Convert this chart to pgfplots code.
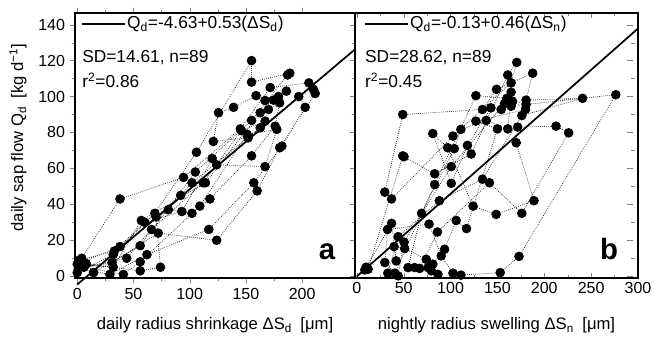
\documentclass[border=0pt]{standalone}
\usepackage{fontspec}
\setmainfont{Liberation Sans}
\usepackage{pgfplots}
\pgfplotsset{compat=1.18}
\tikzset{ann/.style={font=\fontsize{13}{15}\selectfont, inner sep=0pt}}
\begin{document}
\begin{tikzpicture}
\path[use as bounding box] (-56.25pt,-45pt) rectangle (434.25pt,208.5pt);
\pgfplotsset{
  every axis/.append style={
    scale only axis, height=198.75pt,
    /pgf/number format/assume math mode=true,
    ticklabel style={font=\fontsize{12}{14}\selectfont},
    label style={font=\fontsize{12.5}{14}\selectfont},
    ymin=-1, ymax=146.5,
    ytick={0,20,...,140}, minor y tick num=1, minor x tick num=1,
    tick align=outside, xtick pos=both,
    major tick length=4pt, minor tick length=2.5pt,
    axis line style={line width=0.8pt},
    clip=false,
    xlabel style={at={(rel axis cs:0.5,0)}, anchor=base, yshift=-39pt},
  },
  pts/.style={black!85, densely dotted, line width=0.55pt, mark=*, mark size=3.3pt,
    mark options={solid, fill=black, draw=black}},
  fit/.style={black, line width=1.3pt, no marks},
}
% ---------------- panel a ----------------
\begin{axis}[
  at={(0pt,0pt)}, anchor=south west,
  width=210pt,
  xmin=-2, xmax=247,
  xtick={0,50,100,150,200},
  ytick pos=left,
  xlabel={daily radius shrinkage ΔS\textsubscript{d}\enspace[μm]},
  ylabel={daily sap flow Q\textsubscript{d}\enspace[kg d\textsuperscript{−1}]},
  ylabel style={at={(rel axis cs:0,0.53)}, anchor=center, yshift=42.75pt},
]
\addplot[pts] coordinates {
(0,2) (32,12) (69,35) (106,69) (155,120) (155,108) (189,113) (187,112)
(155,86.7) (105,58) (56,17) (14.5,2) (4,10) (38,43) (94.5,55) (145,82)
(171.6,105) (206,107.6) (210,104) (211.6,101.7) (180,71.5) (160,47.5) (124,20) (72,24)
(31,7.6) (1,4) (29,1) (62,12) (117,26) (157,52) (182,72.4) (202.7,94)
(197,100) (152,77) (121,75) (125.6,91) (139,94) (159,100.5) (167,97.8) (179,100)
(186,103) (174.5,98) (162.7,91) (114,52) (57,31) (32,5) (0,6.7) (38,16.5)
(81,37) (102,35) (118,43) (155,67) (176,83.5) (180,96.5) (170,92.8) (167,86.3)
(146,81) (112,52) (66,26) (44,10) (6,5) (41,1) (56,8) (109,39)
(151,79) (177.5,81.7) (167,61) (124,62) (120,65.5) (93,36) (60,30) (33,14)
(2,9) (8,7) (56,3) (74,5) (70,33) (92,45) (102,52) (162.7,82.6)
};
\addplot[fit] coordinates {(0,-4.63) (247,126.28)};
\draw[line width=1.3pt] (rel axis cs:0.025,0.958) -- (rel axis cs:0.18,0.958);
\node[ann, anchor=west] at (rel axis cs:0.185,0.958) {Q\textsubscript{d}=-4.63+0.53(ΔS\textsubscript{d})};
\node[ann, anchor=west] at (rel axis cs:0.025,0.83) {SD=14.61, n=89};
\node[ann, anchor=west] at (rel axis cs:0.025,0.745) {r\textsuperscript{2}=0.86};
\node[anchor=base east, inner sep=0pt, font=\fontsize{22}{24}\selectfont\bfseries] at (rel axis cs:0.93,0.068) {a};
\end{axis}
% ---------------- panel b ----------------
\begin{axis}[
  at={(210pt,0pt)}, anchor=south west,
  width=212.25pt,
  xmin=-2, xmax=300,
  xtick={0,50,...,300},
  ytick pos=both, tick align=inside, yticklabels={},
  every major y tick/.append style={xshift=-4pt},
  every minor y tick/.append style={xshift=-2.5pt},
  xlabel={nightly radius swelling ΔS\textsubscript{n}\enspace[μm]},
]
\addplot[pts] coordinates {
(8.5,3.5) (12,3.9) (49,67) (50.3,66.5) (83,57) (122,68) (161,112) (170.6,119)
(164.6,107.6) (102.5,78) (37,43) (29.8,46.8) (49,90) (134,92.8) (149,104) (187.6,113)
(180.6,98) (240.8,99) (176,89.4) (134,54) (88,42) (44,22) (33,1.7) (40.4,1.7)
(83,51) (127,100.5) (160,99) (180.6,95.6) (276.3,101) (173,11) (153,2) (111,0.6)
(102.5,1.7) (90,11.3) (77,29) (32.7,26) (29.8,7.6) (44,0.2) (50.3,19) (100.7,61)
(157.4,96) (164.6,102.4) (161,82) (138,86.7) (111,81.7) (104,71) (69,35) (54.6,4.8)
(61.7,4.8) (67,4.3) (86,24.6) (141.5,52) (176,35) (226,79.8) (212.5,83.5) (171.6,83)
(170,74.3) (189,42) (148.6,34.4) (124,39) (97,71.5) (81,79.4) (100.7,51.7) (118,72.8)
(143,93.7) (154,92.8) (164.6,94.6) (166,97.4) (180,92.8) (127,86.3) (150,82) (117,26.5)
(106,31) (93.6,15) (81,6.7) (76,4.8) (79.5,3) (86.5,1) (74,9.4) (51,15.4)
(39.7,16.5) (42,8.5) (37,29.4) (10,5)
};
\addplot[fit] coordinates {(0,-0.13) (300,137.87)};
\draw[line width=1.3pt] (rel axis cs:0.035,0.958) -- (rel axis cs:0.187,0.958);
\node[ann, anchor=west] at (rel axis cs:0.194,0.958) {Q\textsubscript{d}=-0.13+0.46(ΔS\textsubscript{n})};
\node[ann, anchor=west] at (rel axis cs:0.035,0.83) {SD=28.62, n=89};
\node[ann, anchor=west] at (rel axis cs:0.035,0.745) {r\textsuperscript{2}=0.45};
\node[anchor=base east, inner sep=0pt, font=\fontsize{22}{24}\selectfont\bfseries] at (rel axis cs:0.93,0.068) {b};
\end{axis}
\end{tikzpicture}
\end{document}
